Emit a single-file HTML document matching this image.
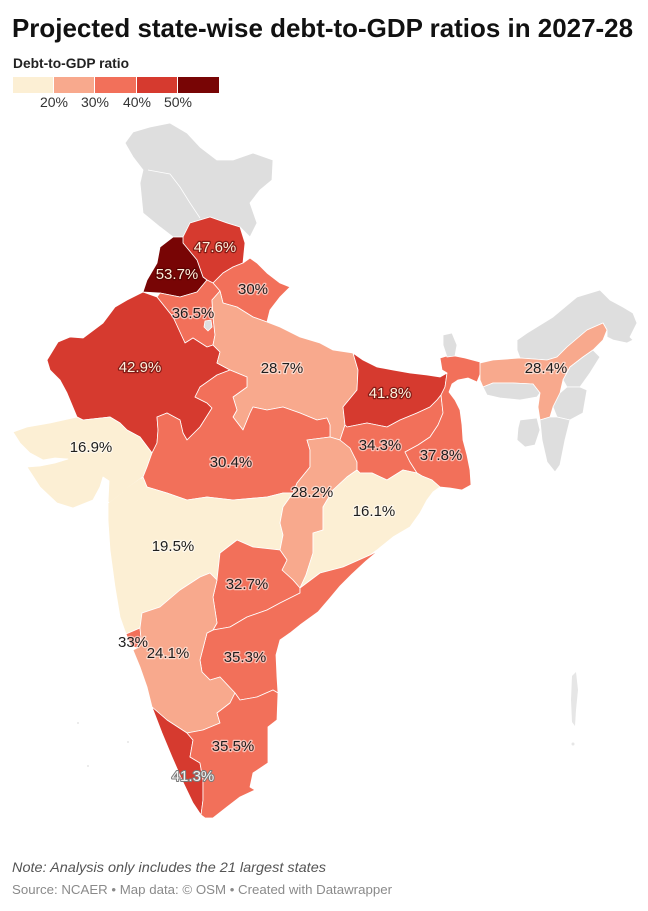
<!DOCTYPE html>
<html><head><meta charset="utf-8"><style>
html,body{margin:0;padding:0;background:#fff;}
svg{display:block;}
.st{stroke:#fff;stroke-width:0.8;stroke-linejoin:round;}
.c0{fill:#fcefd4;} .c1{fill:#f8a98d;} .c2{fill:#f2705a;} .c3{fill:#d63a2f;} .c4{fill:#780505;} .g{fill:#dedede;}
.lb{font-family:"Liberation Sans",sans-serif;font-size:15px;text-anchor:middle;paint-order:stroke;stroke-linejoin:round;}
.dk{fill:#1e1e1e;stroke:rgba(255,255,255,0.55);stroke-width:2.5;}
.lt{fill:#fdf1dd;stroke:rgba(70,0,0,0.55);stroke-width:2.5;}
</style></head><body>
<svg width="648" height="911" viewBox="0 0 648 911" xmlns="http://www.w3.org/2000/svg">
<text x="12" y="37" font-family="Liberation Sans, sans-serif" font-size="26" font-weight="bold" fill="#111" textLength="621" lengthAdjust="spacingAndGlyphs">Projected state-wise debt-to-GDP ratios in 2027-28</text>
<text x="13" y="68" font-family="Liberation Sans, sans-serif" font-size="14" font-weight="bold" fill="#222" textLength="116" lengthAdjust="spacingAndGlyphs">Debt-to-GDP ratio</text>
<rect x="13" y="77" width="40" height="16" class="c0"/>
<rect x="54" y="77" width="40" height="16" class="c1"/>
<rect x="95" y="77" width="41" height="16" class="c2"/>
<rect x="137" y="77" width="40" height="16" class="c3"/>
<rect x="178" y="77" width="41" height="16" class="c4"/>
<g font-family="Liberation Sans, sans-serif" font-size="14" fill="#333" text-anchor="middle">
<text x="54" y="107">20%</text><text x="95" y="107">30%</text><text x="137" y="107">40%</text><text x="178" y="107">50%</text>
</g>

<g class="st">
<polygon class="g" points="125,143 133,132 150,127 170,123 187,133 200,147 217,160 233,160 253,153 273,160 272,180 260,190 250,203 257,223 250,237 240,227 227,223 210,217 190,223 183,237 173,237 160,227 143,213 140,183 143,170 133,157"/>
<polyline fill="none" points="148,170 170,174 180,187 190,203 200,218"/>
<polygon class="c3" points="183,237 190,223 210,217 227,223 240,227 245,243 243,263 233,267 223,273 213,283 207,280 203,277 197,260 183,243"/>
<polygon class="c4" points="173,237 183,237 183,243 197,260 203,277 207,280 197,292 180,297 160,293 143,292 147,280 157,263 160,247"/>
<polygon class="c2" points="233,267 243,263 250,258 257,263 267,273 280,283 290,287 280,297 270,310 267,322 253,317 237,307 223,303 220,291 213,283 223,273"/>
<polygon class="c2" points="157,297 160,293 180,297 197,292 207,280 213,283 220,291 212,300 213,317 215,335 213,345 207,347 193,338 185,343 173,317"/>
<polygon class="g" points="205,321 211,320 212,327 208,331 204,327"/>
<polygon class="c3" points="47,360 58,342 70,337 83,338 103,323 115,307 127,300 143,292 157,297 173,317 185,343 193,338 207,347 213,345 220,352 217,363 230,370 217,375 200,387 195,397 207,403 212,408 200,427 187,440 183,433 180,420 167,413 157,417 158,430 157,443 152,453 140,437 127,430 120,423 110,417 83,420 77,417 67,393 60,380 50,370"/>
<polygon class="c1" points="212,300 220,291 223,303 237,307 253,317 267,322 280,327 300,337 320,343 333,350 353,353 358,370 357,390 343,407 345,425 340,440 330,437 330,425 327,418 317,420 300,413 283,407 267,410 253,407 250,413 243,430 233,417 237,410 233,397 247,387 247,377 230,370 217,363 220,352 213,345 215,335 213,317"/>
<polygon class="c0" points="13,432 27,427 50,423 77,417 83,420 110,417 120,423 127,430 140,437 152,453 147,467 143,477 125,490 108,503 109,481 103,477 100,487 93,500 73,508 57,503 40,487 27,467 40,466 55,463 68,459 55,458 43,460 30,453 20,443"/>
<polygon class="c2" points="157,417 167,413 180,420 183,433 187,440 200,427 212,408 207,403 195,397 200,387 217,375 230,370 247,377 247,387 233,397 237,410 233,417 243,430 250,413 253,407 267,410 283,407 300,413 317,420 327,418 330,425 330,437 307,440 310,450 310,467 297,483 293,493 283,493 267,497 233,500 207,497 187,500 167,493 147,487 143,477 147,467 152,453 157,443 158,430"/>
<polygon class="c0" points="108,503 125,490 143,477 147,487 167,493 187,500 207,497 233,500 267,497 283,493 293,493 283,507 280,523 283,535 280,550 253,547 237,540 220,553 217,580 210,573 200,577 180,590 160,607 142,613 140,628 133,631 126,634 120,617 115,587 110,550 108,520"/>
<polygon class="c1" points="307,440 330,437 340,440 350,448 357,462 357,470 347,477 333,490 323,507 323,530 313,533 313,553 306,575 300,588 293,580 282,570 287,560 280,550 283,535 280,523 283,507 293,493 297,483 310,467 310,450"/>
<polygon class="c3" points="353,353 363,360 377,367 393,370 410,373 427,375 440,377 447,373 445,387 441,395 437,400 430,407 417,413 400,420 387,427 367,423 347,427 345,425 343,407 357,390 358,370"/>
<polygon class="c2" points="345,425 347,427 367,423 387,427 400,420 417,413 430,407 437,400 441,395 443,413 438,425 430,437 418,445 405,452 410,462 417,473 403,470 387,480 372,473 360,473 357,470 357,462 350,448 340,440"/>
<polygon class="c2" points="440,358 450,355 465,358 480,362 481,372 477,382 468,378 458,380 452,384 449,392 455,400 460,410 462,425 463,440 467,455 470,470 471,485 462,490 450,488 440,487 432,480 422,476 417,473 410,462 405,452 418,445 430,437 438,425 443,413 441,395 445,387 447,373 442,370"/>
<polygon class="g" points="443,335 452,333 457,345 455,356 447,357 443,345"/>
<polygon class="c0" points="347,477 357,470 360,473 372,473 387,480 403,470 417,473 422,476 432,480 440,487 433,492 427,500 420,513 410,527 393,537 377,550 370,555 343,567 320,573 300,588 306,575 313,553 313,533 323,530 323,507 333,490"/>
<polygon class="c2" points="280,550 287,560 282,570 293,580 300,588 300,593 280,603 267,610 247,617 230,627 213,630 217,623 213,597 217,580 220,553 237,540 253,547"/>
<polygon class="c2" points="300,588 320,573 343,567 370,555 378,551 366,561 352,574 340,586 330,598 318,612 300,625 290,633 280,640 276,655 277,677 278,693 273,690 257,697 240,700 235,693 220,677 210,680 202,672 200,660 207,633 213,630 230,627 247,617 267,610 280,603 300,593"/>
<polygon class="c2" points="126,634 133,631 140,628 141,638 137,648 131,646"/>
<polygon class="c1" points="140,628 142,613 160,607 180,590 200,577 210,573 217,580 213,597 217,623 213,630 207,633 200,660 202,672 210,680 220,677 235,693 230,703 217,713 220,723 203,730 187,733 167,720 152,707 147,687 140,667 133,650 137,648 141,638"/>
<polygon class="c3" points="152,707 167,720 187,733 193,740 190,757 200,763 203,780 203,800 201,815 193,803 182,780 172,757 162,733"/>
<polygon class="c2" points="230,703 235,693 240,700 257,697 273,690 278,693 277,720 268,727 268,750 268,763 253,773 250,787 255,790 240,797 227,807 213,818 205,818 201,815 203,800 203,780 200,763 190,757 193,740 187,733 203,730 220,723 217,713"/>
<polygon class="g" points="517,340 527,333 553,317 577,297 600,290 610,300 623,307 633,313 637,323 630,337 633,340 627,343 613,340 607,337 607,330 603,323 587,330 567,347 557,357 547,360 520,358 517,350"/>
<polygon class="c1" points="480,363 493,360 520,358 547,360 557,357 567,347 587,330 603,323 607,330 603,340 593,350 583,357 570,367 563,380 560,393 553,407 550,417 540,420 538,407 540,393 533,384 513,383 493,383 483,387 480,380"/>
<polygon class="g" points="483,387 493,383 513,383 533,384 540,393 537,397 520,400 500,398 487,395"/>
<polygon class="g" points="583,357 593,350 600,357 590,373 580,387 567,387 563,380 570,367"/>
<polygon class="g" points="567,387 580,387 587,390 583,413 570,420 557,417 553,407 560,393"/>
<polygon class="g" points="550,417 557,417 570,420 565,440 560,465 555,472 547,462 542,440 540,420"/>
<polygon class="g" points="520,420 537,418 540,430 535,445 525,447 517,440 518,428"/>
</g>
<polyline fill="none" stroke="#fcefd4" stroke-width="1.4" points="141,479 125,490 109,502"/>
<polygon fill="#e6e6e6" points="572,676 576,672 578,690 576,710 575,726 572,722 571,700"/>
<circle cx="573" cy="744" r="1.5" fill="#e6e6e6"/>
<circle cx="78" cy="723" r="1" fill="#e6e6e6"/>
<circle cx="128" cy="742" r="1" fill="#e6e6e6"/>
<circle cx="88" cy="766" r="1" fill="#e6e6e6"/>

<text class="lb lt" x="215" y="252">47.6%</text>
<text class="lb lt" x="177" y="279">53.7%</text>
<text class="lb dk" x="253" y="294">30%</text>
<text class="lb dk" x="193" y="318">36.5%</text>
<text class="lb lt" x="140" y="372">42.9%</text>
<text class="lb dk" x="282" y="373">28.7%</text>
<text class="lb lt" x="390" y="398">41.8%</text>
<text class="lb dk" x="546" y="373">28.4%</text>
<text class="lb dk" x="91" y="452">16.9%</text>
<text class="lb dk" x="231" y="467">30.4%</text>
<text class="lb dk" x="380" y="450">34.3%</text>
<text class="lb dk" x="441" y="460">37.8%</text>
<text class="lb dk" x="312" y="497">28.2%</text>
<text class="lb dk" x="374" y="516">16.1%</text>
<text class="lb dk" x="173" y="551">19.5%</text>
<text class="lb dk" x="247" y="589">32.7%</text>
<text class="lb dk" x="133" y="647">33%</text>
<text class="lb dk" x="168" y="658">24.1%</text>
<text class="lb dk" x="245" y="662">35.3%</text>
<text class="lb dk" x="233" y="751">35.5%</text>
<text class="lb" x="193" y="781" fill="#f2f2f2" stroke="#7a7a7a" stroke-width="2">41.3%</text>

<text x="12" y="872" font-family="Liberation Sans, sans-serif" font-size="14" font-style="italic" fill="#555" textLength="314" lengthAdjust="spacingAndGlyphs">Note: Analysis only includes the 21 largest states</text>
<text x="12" y="894" font-family="Liberation Sans, sans-serif" font-size="13" fill="#8a8a8a" textLength="380" lengthAdjust="spacingAndGlyphs">Source: NCAER • Map data: © OSM  • Created with Datawrapper</text>
</svg>
</body></html>
